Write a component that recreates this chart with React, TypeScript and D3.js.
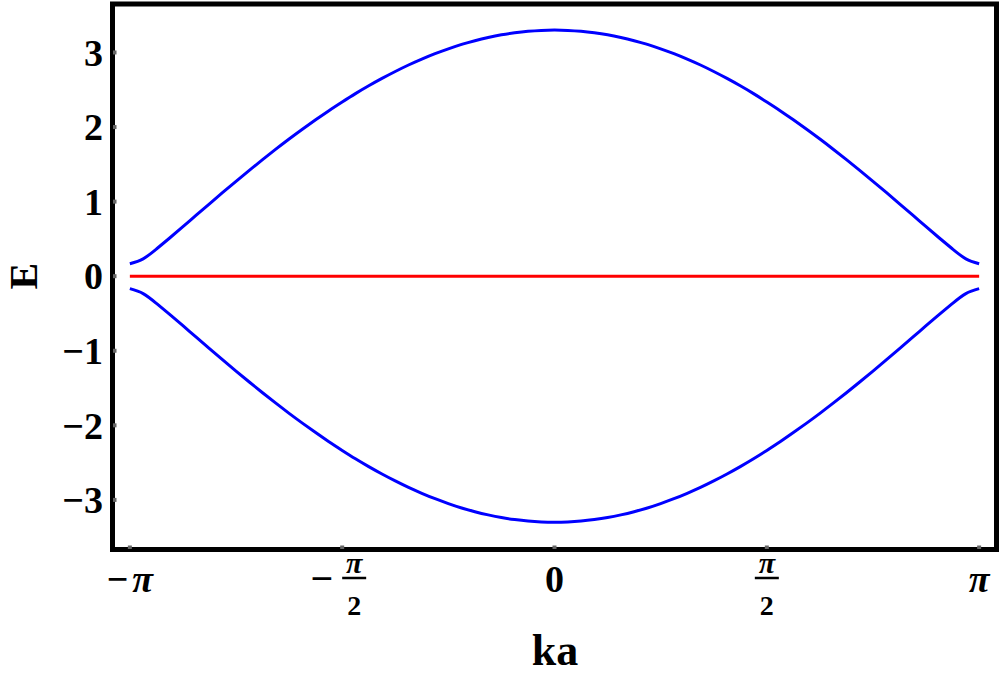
import React from "react";
import * as d3 from "d3";

// k values in units of π/32, from -π to π
const kSteps: number[] = d3.range(-32, 33);
// upper band energy
const upperBand: number[] = [0.167,0.233,0.364,0.512,0.664,0.818,0.971,1.123,1.272,1.419,1.563,1.703,1.839,1.970,2.097,2.220,2.336,2.448,2.553,2.652,2.745,2.832,2.911,2.984,3.049,3.108,3.158,3.201,3.237,3.264,3.284,3.296,3.300,3.296,3.284,3.264,3.237,3.201,3.158,3.108,3.049,2.984,2.911,2.832,2.745,2.652,2.553,2.448,2.336,2.220,2.097,1.970,1.839,1.703,1.563,1.419,1.272,1.123,0.971,0.818,0.664,0.512,0.364,0.233,0.167];
// lower band energy
const lowerBand: number[] = [-0.167,-0.233,-0.364,-0.512,-0.664,-0.818,-0.971,-1.123,-1.272,-1.419,-1.563,-1.703,-1.839,-1.970,-2.097,-2.220,-2.336,-2.448,-2.553,-2.652,-2.745,-2.832,-2.911,-2.984,-3.049,-3.108,-3.158,-3.201,-3.237,-3.264,-3.284,-3.296,-3.300,-3.296,-3.284,-3.264,-3.237,-3.201,-3.158,-3.108,-3.049,-2.984,-2.911,-2.832,-2.745,-2.652,-2.553,-2.448,-2.336,-2.220,-2.097,-1.970,-1.839,-1.703,-1.563,-1.419,-1.272,-1.123,-0.971,-0.818,-0.664,-0.512,-0.364,-0.233,-0.167];
// flat band
const flatBand: number[] = kSteps.map(() => 0);

const yTicks: number[] = [-3,-2,-1,0,1,2,3];
const xTickValues: number[] = [-Math.PI, -Math.PI/2, 0, Math.PI/2, Math.PI];
const xTickLabels: { sign: string; num: string; den: string }[] = [
  { sign: "−", num: "π", den: "" },
  { sign: "−", num: "π", den: "2" },
  { sign: "", num: "0", den: "" },
  { sign: "", num: "π", den: "2" },
  { sign: "", num: "π", den: "" },
];

const FONT = "'Liberation Serif', 'Times New Roman', serif";

export default function App() {
  const left = 112.5, right = 996.5, top = 4, bottom = 549.5;
  const x = d3.scaleLinear().domain([-3.27, 3.27]).range([left, right]);
  const y = d3.scaleLinear().domain([-3.665, 3.65]).range([bottom, top]);
  const ks = kSteps.map((s) => (s * Math.PI) / 32);
  const line = d3
    .line<number>()
    .x((_, i) => x(ks[i]))
    .y((d) => y(d))
    .curve(d3.curveNatural);

  return (
    <svg width={1000} height={675} style={{ position: "absolute", left: 0, top: 0, background: "#fff" }}>
      <rect x={0} y={0} width={1000} height={675} fill="#fff" />
      <path d={line(upperBand) || ""} fill="none" stroke="#0000ff" strokeWidth={3} strokeLinejoin="round" />
      <path d={line(lowerBand) || ""} fill="none" stroke="#0000ff" strokeWidth={3} strokeLinejoin="round" />
      <path d={line(flatBand) || ""} fill="none" stroke="#ff0000" strokeWidth={3} />
      <rect x={left} y={top} width={right - left} height={bottom - top} fill="none" stroke="#000" strokeWidth={5} />
      {yTicks.map((t) => (
        <g key={"y" + t}>
          <rect x={left + 0.5} y={y(t) - 2} width={3.5} height={4} fill="#666" />
          <text x={103} y={y(t)} dy="0.35em" textAnchor="end" fontFamily={FONT} fontWeight="bold" fontSize={38}>
            {t < 0 ? "−" + Math.abs(t) : String(t)}
          </text>
        </g>
      ))}
      {xTickValues.map((v, i) => {
        const lab = xTickLabels[i];
        const cx = x(v);
        return (
          <g key={"x" + i}>
            <rect x={cx - 2} y={bottom - 4} width={4} height={3.5} fill="#666" />
            {lab.den === "" ? (
              <text x={cx} y={592} textAnchor="middle" fontFamily={FONT} fontWeight="bold" fontSize={38}>
                {lab.sign}
                <tspan dx={lab.sign ? 4 : 0} fontStyle={lab.num === "π" ? "italic" : "normal"}>{lab.num}</tspan>
              </text>
            ) : (
              <g>
                {lab.sign && (
                  <text x={cx - 9} y={592} textAnchor="end" fontFamily={FONT} fontWeight="bold" fontSize={40}>
                    {lab.sign}
                  </text>
                )}
                <text x={cx + (lab.sign ? 12 : 0)} y={573} textAnchor="middle" fontFamily={FONT} fontWeight="bold" fontStyle="italic" fontSize={30}>
                  {lab.num}
                </text>
                <line x1={cx + (lab.sign ? 12 : 0) - 12} x2={cx + (lab.sign ? 12 : 0) + 12} y1={578} y2={578} stroke="#000" strokeWidth={2.5} />
                <text x={cx + (lab.sign ? 12 : 0)} y={615} textAnchor="middle" fontFamily={FONT} fontWeight="bold" fontSize={28}>
                  {lab.den}
                </text>
              </g>
            )}
          </g>
        );
      })}
      <text x={555} y={665} textAnchor="middle" fontFamily={FONT} fontWeight="bold" fontSize={44}>ka</text>
      <text transform={`translate(37,${y(0)}) rotate(-90)`} textAnchor="middle" fontFamily={FONT} fontWeight="bold" fontSize={40}>E</text>
    </svg>
  );
}
